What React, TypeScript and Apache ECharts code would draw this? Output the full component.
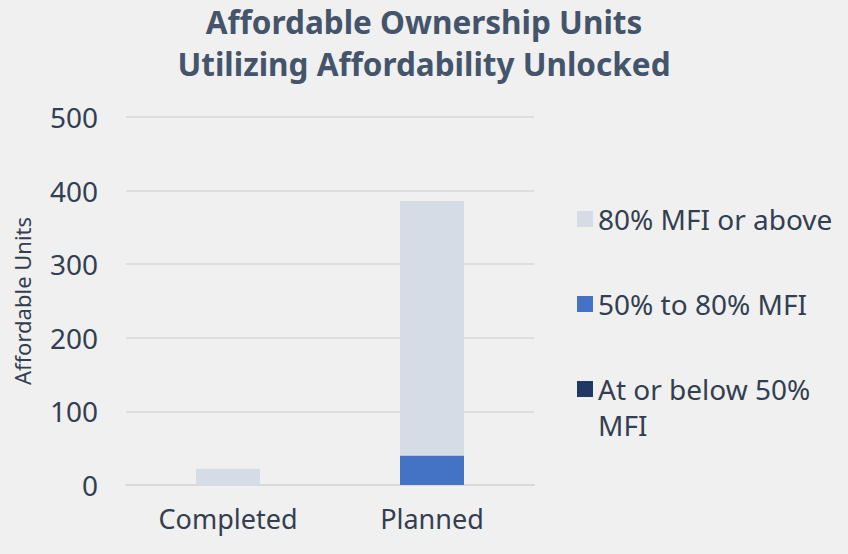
import React, { useEffect, useRef } from "react";
import * as echarts from "echarts";

const categories = ["Completed", "Planned"];
const seriesNames = ["At or below 50% MFI", "50% to 80% MFI", "80% MFI or above"];
const atOrBelow50 = [0, 0];
const from50to80 = [0, 40];
const above80 = [22, 346];
const yTicks = { min: 0, max: 500, interval: 100 };
const colors = ["#203864", "#4472C4", "#D6DCE5"];

const FONT = "'Noto Sans', sans-serif";
const TEXT = "#333F50";

export default function App() {
  const ref = useRef<HTMLDivElement>(null);
  useEffect(() => {
    if (!ref.current) return;
    const chart = echarts.init(ref.current, null, { renderer: "svg" });
    const values = [atOrBelow50, from50to80, above80];
    const legendText = {
      fontFamily: FONT,
      fontSize: 28,
      color: TEXT,
      lineHeight: 36,
    };
    const legendBase = {
      orient: "vertical",
      left: 572,
      icon: "rect",
      itemWidth: 16,
      itemHeight: 16,
      itemGap: 8,
      textStyle: legendText,
    };
    chart.setOption({
      animation: false,
      backgroundColor: "#F0F0F0",
      title: {
        text: "Affordable Ownership Units\nUtilizing Affordability Unlocked",
        left: "center",
        top: 0,
        padding: 0,
        textStyle: {
          fontFamily: FONT,
          fontWeight: "bold",
          fontSize: 31.5,
          lineHeight: 42,
          color: "#44546A",
        },
      },
      grid: { left: 126, right: 314, top: 117, bottom: 69 },
      legend: [
        { ...legendBase, data: [seriesNames[2]], top: 196 },
        { ...legendBase, data: [seriesNames[1]], top: 281 },
        {
          ...legendBase,
          data: [seriesNames[0]],
          top: 330,
          formatter: () => "\nAt or below 50%\nMFI",
        },
      ],
      xAxis: {
        type: "category",
        data: categories,
        axisLine: { lineStyle: { color: "#D9D9D9", width: 2 } },
        axisTick: { show: false },
        axisLabel: {
          fontFamily: FONT,
          fontSize: 27,
          color: TEXT,
          margin: 20,
        },
      },
      yAxis: {
        type: "value",
        min: yTicks.min,
        max: yTicks.max,
        interval: yTicks.interval,
        name: "Affordable Units",
        nameLocation: "middle",
        nameGap: 93,
        nameTextStyle: { fontFamily: FONT, fontSize: 22, color: TEXT },
        axisLine: { show: false },
        axisTick: { show: false },
        splitLine: { lineStyle: { color: "#D9D9D9", width: 1.5 } },
        axisLabel: {
          fontFamily: FONT,
          fontSize: 28,
          color: TEXT,
          margin: 28,
        },
      },
      series: seriesNames.map((name, i) => ({
        name,
        type: "bar",
        stack: "total",
        data: values[i],
        barWidth: 64,
        itemStyle: { color: colors[i] },
      })),
    });
    return () => chart.dispose();
  }, []);
  return <div ref={ref} style={{ width: 848, height: 554, position: "absolute", left: 0, top: 0 }} />;
}
